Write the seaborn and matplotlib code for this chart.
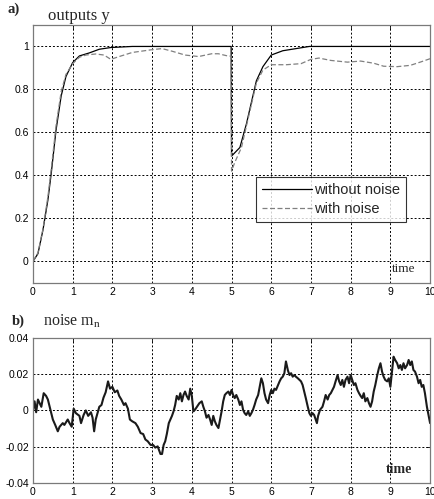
import pandas as pd
import matplotlib
matplotlib.use('Agg')
import matplotlib.pyplot as plt
import seaborn as sns

# outputs y (upper panel)
t_free = [0, 0.125, 0.25, 0.375, 0.46, 0.58, 0.71, 0.83, 1.0, 1.17, 1.42, 1.67, 1.96, 2.5,
          4.99, 5.0, 5.21, 5.375, 5.5, 5.625, 5.79, 6.0, 6.29, 6.625, 6.96, 10]
y_free = [0, 0.036, 0.145, 0.285, 0.41, 0.61, 0.77, 0.86, 0.925, 0.956, 0.97, 0.987, 0.995, 1.0,
          1.0, 0.49, 0.53, 0.64, 0.74, 0.84, 0.906, 0.96, 0.98, 0.99, 1.0, 1.0]

t_noisy = [0, 0.125, 0.25, 0.375, 0.46, 0.58, 0.71, 0.83, 1.0, 1.17, 1.33, 1.58, 1.79, 1.96,
           2.17, 2.5, 3.0, 3.25, 3.5, 3.83, 4.17, 4.5, 4.67, 4.92, 4.99, 5.0, 5.08, 5.25,
           5.375, 5.5, 5.625, 5.79, 6.0, 6.38, 6.75, 7.0, 7.2, 7.5, 7.92, 8.25, 8.58, 8.83,
           9.17, 9.5, 9.75, 10]
y_noisy = [0, 0.04, 0.15, 0.30, 0.43, 0.63, 0.79, 0.87, 0.92, 0.95, 0.96, 0.965, 0.96, 0.94,
           0.953, 0.972, 0.985, 0.99, 0.978, 0.96, 0.953, 0.966, 0.966, 0.955, 0.955, 0.42, 0.46, 0.53,
           0.63, 0.73, 0.83, 0.89, 0.915, 0.915, 0.92, 0.94, 0.946, 0.935, 0.927, 0.932, 0.922, 0.908,
           0.906, 0.912, 0.927, 0.943]

# noise m_n (lower panel)
t_noise = [0.00, 0.04, 0.08, 0.125, 0.21, 0.27, 0.33, 0.375, 0.42, 0.46, 0.50, 0.56, 0.625, 0.67,
           0.75, 0.79, 0.875, 0.92, 0.975, 1.025, 1.08, 1.17, 1.21, 1.275, 1.33, 1.39, 1.46, 1.50,
           1.54, 1.58, 1.625, 1.67, 1.725, 1.775, 1.83, 1.89, 1.94, 2.00, 2.06, 2.125, 2.17, 2.225,
           2.29, 2.33, 2.39, 2.44, 2.50, 2.58, 2.64, 2.71, 2.775, 2.83, 2.89, 2.96, 3.025, 3.08,
           3.14, 3.21, 3.25, 3.29, 3.33, 3.37, 3.42, 3.46, 3.50, 3.54, 3.58, 3.62, 3.67, 3.71,
           3.75, 3.79, 3.83, 3.87, 3.92, 3.96, 4.00, 4.04, 4.08, 4.13, 4.19, 4.25, 4.29, 4.33,
           4.37, 4.42, 4.46, 4.50, 4.54, 4.58, 4.62, 4.67, 4.71, 4.75, 4.79, 4.83, 4.87, 4.92,
           4.96, 5.00, 5.04, 5.08, 5.12, 5.17, 5.21, 5.25, 5.29, 5.33, 5.37, 5.42, 5.46, 5.50,
           5.54, 5.58, 5.62, 5.67, 5.71, 5.75, 5.79, 5.83, 5.87, 5.92, 5.96, 6.00, 6.04, 6.08,
           6.12, 6.17, 6.21, 6.25, 6.29, 6.33, 6.37, 6.42, 6.46, 6.50, 6.54, 6.58, 6.62, 6.67,
           6.75, 6.79, 6.83, 6.87, 6.92, 6.96, 7.00, 7.04, 7.08, 7.15, 7.18, 7.23, 7.29, 7.33,
           7.37, 7.42, 7.46, 7.50, 7.54, 7.58, 7.62, 7.67, 7.71, 7.75, 7.79, 7.83, 7.87, 7.92,
           7.96, 8.00, 8.04, 8.08, 8.12, 8.17, 8.21, 8.25, 8.29, 8.33, 8.37, 8.42, 8.46, 8.50,
           8.54, 8.58, 8.62, 8.67, 8.71, 8.75, 8.79, 8.83, 8.87, 8.92, 8.96, 9.00, 9.04, 9.08,
           9.12, 9.17, 9.21, 9.25, 9.29, 9.33, 9.37, 9.42, 9.46, 9.50, 9.54, 9.58, 9.62, 9.67,
           9.71, 9.75, 9.79, 9.83, 9.87, 9.92, 9.96, 10.0]
m_noise = [0.000, 0.005, -0.001, 0.006, 0.002, 0.0095, 0.008, 0.006, 0.002, -0.0015, -0.005, -0.008,
           -0.0115, -0.009, -0.007, -0.008, -0.005, -0.007, -0.009, 0.001, -0.0015, -0.003, -0.007,
           -0.0025, 0.0, -0.003, -0.001, -0.004, -0.0115, -0.005, -0.0015, 0.002, 0.003, 0.007,
           0.010, 0.016, 0.012, 0.013, 0.010, 0.011, 0.008, 0.006, 0.003, 0.004, 0.001, -0.005,
           -0.006, -0.007, -0.009, -0.0125, -0.013, -0.016, -0.017, -0.019, -0.019, -0.0205,
           -0.0198, -0.024, -0.024, -0.019, -0.017, -0.013, -0.007, -0.005, -0.003, -0.0005,
           0.003, 0.008, 0.006, 0.0095, 0.005, 0.0085, 0.0104, 0.008, 0.006, 0.012, 0.008,
           -0.0005, 0.0004, 0.002, 0.004, 0.005, 0.002, -0.0005, -0.004, -0.0025, -0.005, -0.008,
           -0.003, -0.006, -0.008, -0.0097, -0.005, -0.0005, 0.005, 0.0085, 0.0095, 0.0104,
           0.0085, 0.0113, 0.0085, 0.0068, 0.0085, 0.006, 0.003, 0.005, 0.0004, -0.0015, -0.0025,
           -0.0005, -0.003, -0.0015, 0.0004, 0.003, 0.006, 0.0085, 0.013, 0.0177, 0.015, 0.0095,
           0.006, 0.004, 0.0085, 0.0113, 0.0095, 0.012, 0.0113, 0.014, 0.016, 0.0177, 0.0186,
           0.0205, 0.027, 0.022, 0.0195, 0.0205, 0.0186, 0.0195, 0.0186, 0.0177, 0.016, 0.014,
           0.0104, 0.0068, 0.002, -0.0015, -0.003, -0.0015, -0.0025, -0.007, -0.003, 0.0004,
           0.002, 0.005, 0.0085, 0.006, 0.0085, 0.0095, 0.0113, 0.013, 0.016, 0.0195, 0.016,
           0.014, 0.0168, 0.013, 0.0168, 0.0186, 0.015, 0.0195, 0.0168, 0.014, 0.015, 0.0113,
           0.0095, 0.008, 0.0068, 0.0095, 0.005, 0.0068, 0.004, 0.002, 0.005, 0.0104, 0.014,
           0.0195, 0.0232, 0.026, 0.0214, 0.0186, 0.0168, 0.016, 0.0177, 0.013, 0.0214, 0.0296,
           0.0278, 0.026, 0.0232, 0.025, 0.0223, 0.026, 0.0232, 0.025, 0.0278, 0.025, 0.027,
           0.0223, 0.0214, 0.0186, 0.015, 0.0168, 0.013, 0.014, 0.0095, 0.002, -0.0025, -0.007]

x_ticks = list(range(0, 11))
y_ticks_top = [0, 0.2, 0.4, 0.6, 0.8, 1]
y_labels_top = ['0', '0.2', '0.4', '0.6', '0.8', '1']
y_ticks_bot = [-0.04, -0.02, 0, 0.02, 0.04]
y_labels_bot = ['-0.04', '-0.02', '0', '0.02', '0.04']

sns.set_style('white')
plt.rcParams['font.family'] = ['Liberation Sans', 'DejaVu Sans']

fig = plt.figure(figsize=(4.34, 4.99), dpi=100)
ax1 = fig.add_axes([0.076, 0.433, 0.915, 0.517])
ax2 = fig.add_axes([0.076, 0.032, 0.915, 0.291])

df_free = pd.DataFrame({'t': t_free, 'y': y_free})
df_noisy = pd.DataFrame({'t': t_noisy, 'y': y_noisy})
df_noise = pd.DataFrame({'t': t_noise, 'm': m_noise})

sns.lineplot(data=df_free, x='t', y='y', ax=ax1, color='black', lw=0.9,
             sort=False, estimator=None, label='without noise')
sns.lineplot(data=df_noisy, x='t', y='y', ax=ax1, color='#808080', lw=0.9,
             sort=False, estimator=None, label='with noise', dashes=False)
ax1.lines[1].set_dashes([4, 2])

sns.lineplot(data=df_noise, x='t', y='m', ax=ax2, color='#1a1a1a', lw=1.5,
             sort=False, estimator=None)

grid_kw = dict(color='black', linestyle=(0, (2, 2)), linewidth=0.7)
for ax in (ax1, ax2):
    ax.set_xlim(0, 10)
    ax.set_xticks(x_ticks)
    ax.set_xticklabels([str(v) for v in x_ticks])
    ax.grid(True, **grid_kw)
    ax.set_axisbelow(True)
    ax.set_xlabel('')
    ax.set_ylabel('')
    ax.tick_params(direction='in', length=3, width=0.6, labelsize=7.5, colors='black',
                   pad=3, top=True, right=True)
    for s in ax.spines.values():
        s.set_color('#7a7a7a')
        s.set_linewidth(0.9)

ax1.set_ylim(-0.1, 1.1)
ax1.set_yticks(y_ticks_top)
ax1.set_yticklabels(y_labels_top)
ax2.set_ylim(-0.04, 0.04)
ax2.set_yticks(y_ticks_bot)
ax2.set_yticklabels(y_labels_bot)

leg = ax1.legend(loc='lower right', bbox_to_anchor=(0.94, 0.236), fontsize=10.5,
                 frameon=True, fancybox=False, handlelength=3.4, borderpad=0.4,
                 labelspacing=0.35, handletextpad=0.2, borderaxespad=0)
leg.get_frame().set_edgecolor('black')
leg.get_frame().set_linewidth(0.8)

serif = ['Liberation Serif', 'DejaVu Serif']
fig.text(0.018, 0.974, 'a)', fontsize=10.5, fontweight='bold', family=serif, va='baseline')
fig.text(0.11, 0.96, 'outputs y', fontsize=12, family=serif, va='baseline')
fig.text(0.028, 0.349, 'b)', fontsize=10.5, fontweight='bold', family=serif, va='baseline')
fig.text(0.099, 0.347, r'noise $\mathregular{m_n}$', fontsize=11.5,
         family=serif, va='baseline')
ax1.text(0.963, 0.03, 'time', transform=ax1.transAxes, ha='right', va='bottom',
         fontsize=9.5, family=serif)
ax2.text(0.955, 0.05, 'time', transform=ax2.transAxes, ha='right', va='bottom',
         fontsize=10, fontweight='bold', family=serif)

plt.savefig('out.png', dpi=100)
